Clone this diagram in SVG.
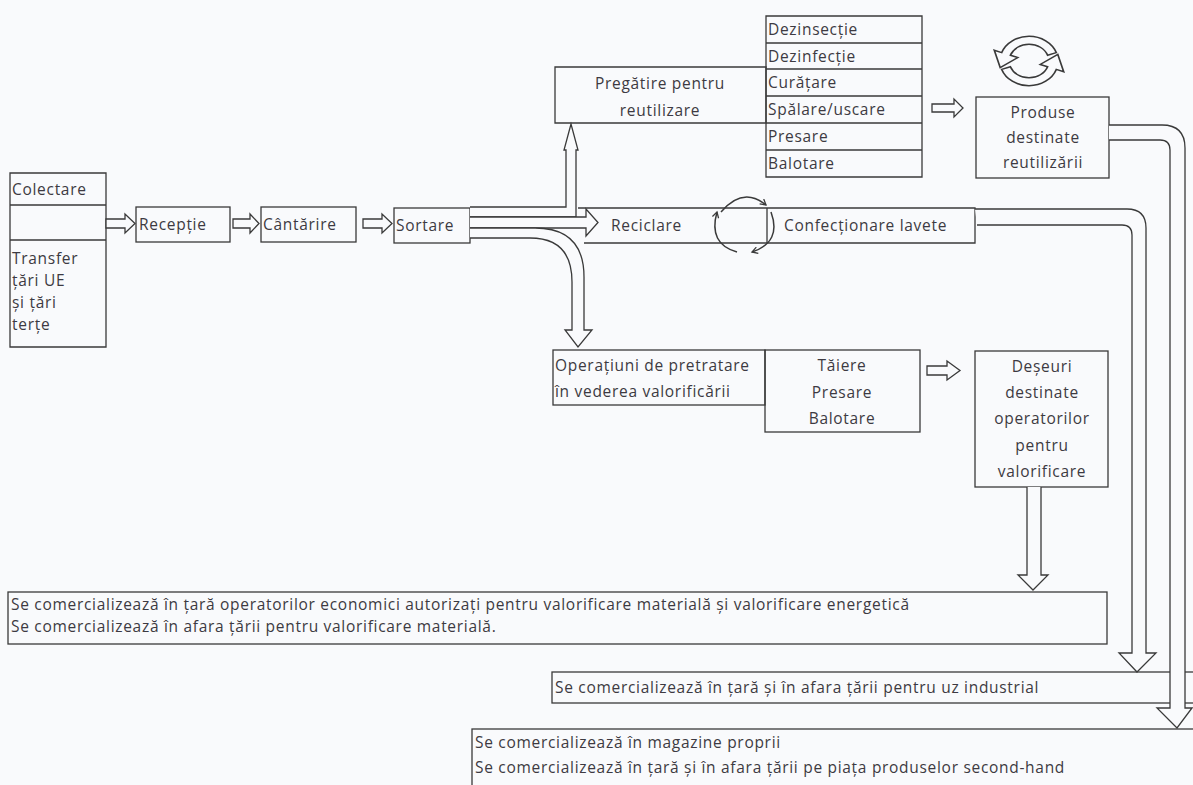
<svg xmlns="http://www.w3.org/2000/svg" width="1193" height="785" viewBox="0 0 1193 785">
<defs>
<style>
.b{fill:none;stroke:#3a3a3a;stroke-width:1.3}
.p{fill:#f9fafc;stroke:#3a3a3a;stroke-width:1.3;stroke-linejoin:miter}
.a{fill:none;stroke:#3a3a3a;stroke-width:1.5}
.t{font-family:"Open Sans","Noto Sans",sans-serif;font-size:15.5px;letter-spacing:0.7px;fill:#3d3a42}
.c{text-anchor:middle}
</style>
<marker id="chev" viewBox="0 0 10 10" refX="8" refY="5" markerWidth="8" markerHeight="8" markerUnits="userSpaceOnUse" orient="auto">
<path d="M1,1 L8,5 L1,9" fill="none" stroke="#3a3a3a" stroke-width="1.6"/>
</marker>
</defs>
<rect x="0" y="0" width="1193" height="785" fill="#f9fafc"/>

<g id="colectare">
<path class="b" d="M10,173 H106 V347 H10 Z M10,205 H106 M10,240 H106"/>
<text class="t" x="12" y="195">Colectare</text>
<text class="t" x="12" y="264">Transfer</text>
<text class="t" x="12" y="286">țări UE</text>
<text class="t" x="12" y="308">și țări</text>
<text class="t" x="12" y="330">terțe</text>
</g>

<g id="receptie">
<rect class="b" x="136" y="207" width="94" height="35"/>
<text class="t" x="139" y="230">Recepție</text>
</g>

<g id="cantarire">
<rect class="b" x="261" y="207" width="95" height="35"/>
<text class="t" x="263" y="230">Cântărire</text>
</g>

<g id="sortare">
<rect class="b" x="394" y="208" width="76" height="35"/>
<text class="t" x="396" y="231">Sortare</text>
</g>

<g id="pregatire">
<path class="b" d="M555,67 H766 V123 H555 Z"/>
<text class="t c" x="660" y="89">Pregătire pentru</text>
<text class="t c" x="660" y="116">reutilizare</text>
</g>

<g id="tratamente">
<path class="b" d="M766,16 H922 V177 H766 Z M766,43 H922 M766,69 H922 M766,96 H922 M766,123 H922 M766,150 H922"/>
<text class="t" x="768" y="35">Dezinsecție</text>
<text class="t" x="768" y="62">Dezinfecție</text>
<text class="t" x="768" y="88">Curățare</text>
<text class="t" x="768" y="115">Spălare/uscare</text>
<text class="t" x="768" y="142">Presare</text>
<text class="t" x="768" y="169">Balotare</text>
</g>

<g id="produse">
<rect class="b" x="976" y="97" width="133" height="81"/>
<text class="t c" x="1043" y="118">Produse</text>
<text class="t c" x="1043" y="143">destinate</text>
<text class="t c" x="1043" y="168">reutilizării</text>
</g>

<g id="reciclare-icon" transform="translate(1029,61) scale(1.32,1.12)">
<path class="p" d="M14.1,-5.13 L20.68,-7.52 A22,22 0 0 0 -20.68,-7.52 L-26.3,-9.58 L-21.8,5.9 L-8.46,-3.08 L-14.1,-5.13 A15,15 0 0 1 14.1,-5.13 Z"/>
<path class="p" d="M-14.1,5.13 L-20.68,7.52 A22,22 0 0 0 20.68,7.52 L26.3,9.58 L21.8,-5.9 L8.46,3.08 L14.1,5.13 A15,15 0 0 1 -14.1,5.13 Z"/>
</g>

<g id="reciclare">
<path class="b" d="M578,208 H975 V243 H584 M767,208 V243"/>
<text class="t" x="611" y="231">Reciclare</text>
<text class="t" x="784" y="231">Confecționare lavete</text>
</g>

<g id="ciclu">
<path class="a" d="M721,212 Q743,186 766,205" marker-end="url(#chev)"/>
<path class="a" d="M771,212 Q782,242 752,252" marker-end="url(#chev)"/>
<path class="a" d="M737,252 Q708,244 717,212" marker-end="url(#chev)"/>
</g>

<g id="operatiuni">
<rect class="b" x="553" y="350" width="212" height="55"/>
<text class="t" x="555" y="371">Operațiuni de pretratare</text>
<text class="t" x="555" y="397">în vederea valorificării</text>
</g>

<g id="taiere">
<rect class="b" x="765" y="350" width="155" height="82"/>
<text class="t c" x="842" y="371">Tăiere</text>
<text class="t c" x="842" y="398">Presare</text>
<text class="t c" x="842" y="424">Balotare</text>
</g>

<g id="deseuri">
<rect class="b" x="975" y="351" width="133" height="136"/>
<text class="t c" x="1042" y="372">Deșeuri</text>
<text class="t c" x="1042" y="398">destinate</text>
<text class="t c" x="1042" y="424">operatorilor</text>
<text class="t c" x="1042" y="451">pentru</text>
<text class="t c" x="1042" y="477">valorificare</text>
</g>

<g id="valorificare">
<rect class="b" x="8" y="592" width="1099" height="52"/>
<text class="t" x="11" y="610">Se comercializează în țară operatorilor economici autorizați pentru valorificare materială și valorificare energetică</text>
<text class="t" x="11" y="632">Se comercializează în afara țării pentru valorificare materială.</text>
</g>

<g id="industrial">
<rect class="b" x="552" y="672" width="660" height="31"/>
<text class="t" x="555" y="693">Se comercializează în țară și în afara țării pentru uz industrial</text>
</g>

<g id="second-hand">
<rect class="b" x="472" y="729" width="740" height="70"/>
<text class="t" x="475" y="748">Se comercializează în magazine proprii</text>
<text class="t" x="475" y="773">Se comercializează în țară și în afara țării pe piața produselor second-hand</text>
</g>

<g id="connectors">
<path class="p" d="M106,219 H125 V214 L135,223.5 L125,233 V228 H106 Z"/>
<path class="p" d="M233,219 H250 V214 L259,223.5 L250,233 V228 H233 Z"/>
<path class="p" d="M363,219 H382 V214 L392,223.5 L382,233 V228 H363 Z"/>
<path class="p" d="M470,207 H566 V150 H564 L571,124 L578,150 H576 V217 H470"/>
<path class="p" d="M470,217 H586 V209 L598,222.5 L586,236 V228 H470"/>
<path class="p" d="M470,228 H535 Q584,228 584,277 V330 H592 L578,347 L565,330 H572 V282 Q572,238 530,238 H470"/>
<path class="p" d="M932,104 H954 V99 L963,108 L954,117 V112 H932 Z"/>
<path class="p" d="M927,366 H947 V361 L960,370.5 L947,380 V375 H927 Z"/>
<path class="p" d="M1027,487 V575 H1018 L1033,590 L1048,575 H1041 V487"/>
<path class="p" d="M975,209 H1127 Q1146,209 1146,228 V653 H1156 L1137,672 L1119,653 H1132 V235 Q1132,225 1122,225 H977"/>
<path class="p" d="M1109,125 H1162 Q1185,125 1185,148 V708 H1192 L1177,728 L1157,708 H1170 V150 Q1170,140 1160,140 H1109"/>
</g>
</svg>
